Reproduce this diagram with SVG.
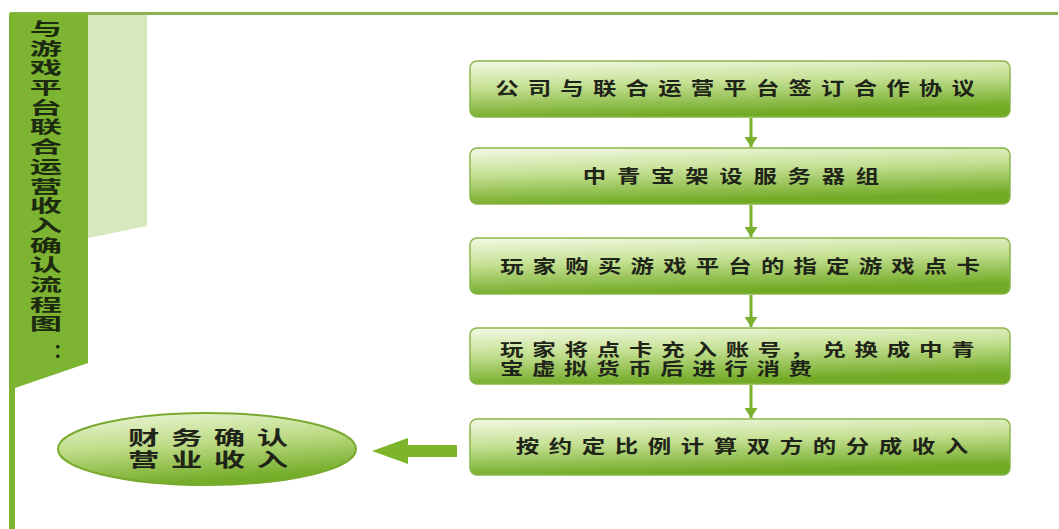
<svg xmlns="http://www.w3.org/2000/svg" width="1059" height="529" viewBox="0 0 1059 529">
<defs>
<linearGradient id="boxg" x1="0" y1="0" x2="0.25" y2="1">
<stop offset="0" stop-color="#f3f9e6"/>
<stop offset="0.45" stop-color="#c6e195"/>
<stop offset="1" stop-color="#71aa25"/>
</linearGradient>
<linearGradient id="ellg" x1="0" y1="0" x2="0.3" y2="1">
<stop offset="0" stop-color="#eef7dc"/>
<stop offset="0.5" stop-color="#bfdc88"/>
<stop offset="1" stop-color="#74ad28"/>
</linearGradient>
<marker id="ah" markerWidth="10" markerHeight="13" refX="10" refY="6.5" orient="auto" markerUnits="userSpaceOnUse" viewBox="0 0 10 13">
<path d="M0,0 L10,6.5 L0,13 Z" fill="#7bb02c"/>
</marker>
</defs>
<style>
.box{fill:url(#boxg);stroke:#89b54a;stroke-width:1.5}
.t{font-family:"Liberation Sans","Noto Sans CJK SC",sans-serif;font-weight:700;font-size:18px;fill:#1f2418}
.title{font-family:"Liberation Sans","Noto Sans CJK SC",sans-serif;font-weight:700;font-size:17px;fill:#1c2a10}
.conn{stroke:#7bb02c;stroke-width:3;fill:none}
</style>
<rect x="0" y="0" width="1059" height="529" fill="#ffffff"/>
<g id="frame">
<rect x="10" y="12" width="1048" height="3" fill="#8db352"/>
<polygon points="88,15 147,15 147,226 88,238" fill="#d7e8be"/>
<polygon points="10,13 88,13 88,363 15,388 15,529 9,529 9,13" fill="#7db532"/>
</g>
<g id="title">
<g transform="translate(46,0) scale(1.9,1)">
<text class="title" text-anchor="middle">
<tspan x="0" y="35">与</tspan><tspan x="0" y="54.7">游</tspan><tspan x="0" y="74.4">戏</tspan><tspan x="0" y="94.1">平</tspan><tspan x="0" y="113.8">台</tspan><tspan x="0" y="133.5">联</tspan><tspan x="0" y="153.2">合</tspan><tspan x="0" y="172.9">运</tspan><tspan x="0" y="192.6">营</tspan><tspan x="0" y="212.3">收</tspan><tspan x="0" y="232">入</tspan><tspan x="0" y="251.7">确</tspan><tspan x="0" y="271.4">认</tspan><tspan x="0" y="291.1">流</tspan><tspan x="0" y="310.8">程</tspan><tspan x="0" y="330.5">图</tspan>
</text>
</g>
<text class="title" x="53" y="358" style="font-size:19px">：</text>
</g>
<g id="connectors">
<line class="conn" x1="751" y1="118" x2="751" y2="147" marker-end="url(#ah)"/>
<line class="conn" x1="751" y1="205" x2="751" y2="237" marker-end="url(#ah)"/>
<line class="conn" x1="751" y1="295" x2="751" y2="327" marker-end="url(#ah)"/>
<line class="conn" x1="751" y1="385" x2="751" y2="418" marker-end="url(#ah)"/>
<polygon points="457,445 408,445 408,438 372,451 408,464 408,457 457,457" fill="#7cb52a"/>
</g>
<g id="n1">
<rect class="box" x="470" y="61" width="540" height="56" rx="7"/>
<g transform="translate(735,0) scale(1.3,1)"><text class="t" x="0" y="95.5" text-anchor="middle" textLength="369" lengthAdjust="spacing">公司与联合运营平台签订合作协议</text></g>
</g>
<g id="n2">
<rect class="box" x="470" y="148" width="540" height="56" rx="7"/>
<g transform="translate(731,0) scale(1.3,1)"><text class="t" x="0" y="183.5" text-anchor="middle" textLength="228" lengthAdjust="spacing">中青宝架设服务器组</text></g>
</g>
<g id="n3">
<rect class="box" x="470" y="238" width="540" height="56" rx="7"/>
<g transform="translate(740,0) scale(1.3,1)"><text class="t" x="0" y="273.5" text-anchor="middle" textLength="369" lengthAdjust="spacing">玩家购买游戏平台的指定游戏点卡</text></g>
</g>
<g id="n4">
<rect class="box" x="470" y="328" width="540" height="56" rx="7"/>
<g transform="translate(500,0) scale(1.38,1)">
<text class="t" x="0" y="356" textLength="344" lengthAdjust="spacing" style="font-size:17px">玩家将点卡充入账号，兑换成中青</text>
<text class="t" x="0" y="375.5" textLength="226" lengthAdjust="spacing" style="font-size:17px">宝虚拟货币后进行消费</text>
</g>
</g>
<g id="n5">
<rect class="box" x="470" y="419" width="540" height="56" rx="7"/>
<g transform="translate(742,0) scale(1.3,1)"><text class="t" x="0" y="453.5" text-anchor="middle" textLength="348" lengthAdjust="spacing">按约定比例计算双方的分成收入</text></g>
</g>
<g id="n6">
<ellipse cx="207" cy="449" rx="149" ry="36" fill="url(#ellg)" stroke="#7aa92f" stroke-width="2"/>
<g transform="translate(208,0) scale(1.65,1)">
<text class="t" x="0" y="445.5" text-anchor="middle" textLength="97" lengthAdjust="spacing" style="font-size:19px">财务确认</text>
<text class="t" x="0" y="467" text-anchor="middle" textLength="97" lengthAdjust="spacing" style="font-size:19px">营业收入</text>
</g>
</g>
</svg>
